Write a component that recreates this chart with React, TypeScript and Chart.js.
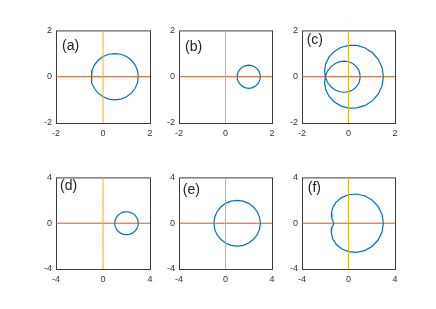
import { useEffect, useRef } from "react";
import { Chart, registerables } from "chart.js";
Chart.register(...registerables);

// ---- data ----
const panelLabels = ["(a)", "(b)", "(c)", "(d)", "(e)", "(f)"];
const axisLimits = [2, 2, 2, 4, 4, 4];
const tickSteps = [2, 2, 2, 4, 4, 4];
// label anchor (left, middle) in data coordinates
const labelX = [-1.74, -1.74, -1.8, -3.65, -3.68, -3.5];
const labelY = [1.3, 1.28, 1.57, 3.22, 2.86, 3.03];

const aX = [1.5, 1.47, 1.37, 1.21, 1, 0.76, 0.5, 0.24, 0, -0.21, -0.37, -0.47, -0.5, -0.47, -0.37, -0.21, 0, 0.24, 0.5, 0.76, 1, 1.21, 1.37, 1.47, 1.5];
const aY = [0, 0.26, 0.5, 0.71, 0.87, 0.97, 1, 0.97, 0.87, 0.71, 0.5, 0.26, 0, -0.26, -0.5, -0.71, -0.87, -0.97, -1, -0.97, -0.87, -0.71, -0.5, -0.26, 0];

const bX = [1.5, 1.48, 1.43, 1.35, 1.25, 1.13, 1, 0.87, 0.75, 0.65, 0.57, 0.52, 0.5, 0.52, 0.57, 0.65, 0.75, 0.87, 1, 1.13, 1.25, 1.35, 1.43, 1.48, 1.5];
const bY = [0, 0.13, 0.25, 0.35, 0.43, 0.48, 0.5, 0.48, 0.43, 0.35, 0.25, 0.13, 0, -0.13, -0.25, -0.35, -0.43, -0.48, -0.5, -0.48, -0.43, -0.35, -0.25, -0.13, 0];

const cX = [1.5, 1.445, 1.284, 1.034, 0.717, 0.361, 0, -0.338, -0.625, -0.842, -0.978, -1.029, -1, -0.903, -0.754, -0.572, -0.375, -0.18, 0, 0.156, 0.284, 0.38, 0.448, 0.487, 0.5, 0.487, 0.448, 0.38, 0.284, 0.156, 0, -0.18, -0.375, -0.572, -0.754, -0.903, -1, -1.029, -0.978, -0.842, -0.625, -0.338, 0, 0.361, 0.717, 1.034, 1.284, 1.445, 1.5];
const cY = [0, 0.387, 0.742, 1.034, 1.241, 1.349, 1.354, 1.26, 1.083, 0.842, 0.565, 0.276, 0, -0.242, -0.435, -0.572, -0.65, -0.672, -0.646, -0.583, -0.491, -0.38, -0.259, -0.131, 0, 0.131, 0.259, 0.38, 0.491, 0.583, 0.646, 0.672, 0.65, 0.572, 0.435, 0.242, 0, -0.276, -0.565, -0.842, -1.083, -1.26, -1.354, -1.349, -1.241, -1.034, -0.742, -0.387, 0];

const dX = [3, 2.97, 2.87, 2.71, 2.5, 2.26, 2, 1.74, 1.5, 1.29, 1.13, 1.03, 1, 1.03, 1.13, 1.29, 1.5, 1.74, 2, 2.26, 2.5, 2.71, 2.87, 2.97, 3];
const dY = [0, 0.26, 0.5, 0.71, 0.87, 0.97, 1, 0.97, 0.87, 0.71, 0.5, 0.26, 0, -0.26, -0.5, -0.71, -0.87, -0.97, -1, -0.97, -0.87, -0.71, -0.5, -0.26, 0];

const eX = [3, 2.93, 2.73, 2.41, 2, 1.52, 1, 0.48, 0, -0.41, -0.73, -0.93, -1, -0.93, -0.73, -0.41, 0, 0.48, 1, 1.52, 2, 2.41, 2.73, 2.93, 3];
const eY = [0, 0.52, 1, 1.41, 1.73, 1.93, 2, 1.93, 1.73, 1.41, 1, 0.52, 0, -0.52, -1, -1.41, -1.73, -1.93, -2, -1.93, -1.73, -1.41, -1, -0.52, 0];

const fX = [-1.25, -1.428, -1.475, -1.358, -1.063, -0.599, 0, 0.683, 1.383, 2.027, 2.546, 2.883, 3, 2.883, 2.546, 2.027, 1.383, 0.683, 0, -0.599, -1.063, -1.358, -1.475, -1.428, -1.25];
const fY = [0, -0.383, -0.852, -1.358, -1.84, -2.236, -2.487, -2.548, -2.395, -2.027, -1.47, -0.773, 0, 0.773, 1.47, 2.027, 2.395, 2.548, 2.487, 2.236, 1.84, 1.358, 0.852, 0.383, 0];

const curvesX = [aX, bX, cX, dX, eX, fX];
const curvesY = [aY, bY, cY, dY, eY, fY];

// ---- layout ----
const boxLefts = [56, 179, 302];
const boxWidths = [94, 93, 93];
const boxTops = [29, 176];
const boxHeights = [94, 93];
const YW = 22;
const XH = 20;
const PT = 8;
const PR = 8;
const FONT = "'Liberation Sans', Arial, Helvetica, sans-serif";

function Panel({ idx }: { idx: number }) {
  const ref = useRef<HTMLCanvasElement | null>(null);
  const col = idx % 3;
  const row = Math.floor(idx / 3);
  const W = boxWidths[col];
  const H = boxHeights[row];
  const cw = YW + W + PR;
  const ch = PT + H + XH;

  useEffect(() => {
    if (!ref.current) return;
    const lim = axisLimits[idx];
    const curve = curvesX[idx].map((x, i) => ({ x, y: curvesY[idx][i] }));
    const boxPlugin = {
      id: "boxAndLabel",
      beforeDatasetsDraw(chart: any) {
        const { ctx, chartArea: a } = chart;
        ctx.save();
        ctx.strokeStyle = "#3c3c3c";
        ctx.lineWidth = 1;
        ctx.strokeRect(a.left + 0.5, a.top + 0.5, a.right - a.left, a.bottom - a.top);
        ctx.restore();
      },
      afterDatasetsDraw(chart: any) {
        const { ctx } = chart;
        const px = chart.scales.x.getPixelForValue(labelX[idx]);
        const py = chart.scales.y.getPixelForValue(labelY[idx]);
        ctx.save();
        ctx.font = `14px ${FONT}`;
        ctx.fillStyle = "#222";
        ctx.textAlign = "left";
        ctx.textBaseline = "middle";
        ctx.fillText(panelLabels[idx], px, py);
        ctx.restore();
      },
    };
    const tickFont = { size: 9, family: FONT };
    const chart = new Chart(ref.current, {
      type: "scatter",
      data: {
        datasets: [
          {
            data: [{ x: 0, y: -lim }, { x: 0, y: lim }],
            borderColor: "#EDB120",
            borderWidth: 1,
            showLine: true,
            pointRadius: 0,
          },
          {
            data: [{ x: -lim, y: 0 }, { x: lim, y: 0 }],
            borderColor: "#D95319",
            borderWidth: 1,
            showLine: true,
            pointRadius: 0,
          },
          {
            data: curve,
            borderColor: "#0072BD",
            borderWidth: 1.2,
            showLine: true,
            pointRadius: 0,
            tension: 0,
          },
        ],
      },
      options: {
        animation: false,
        responsive: false,
        events: [],
        layout: { padding: { top: PT, right: PR, left: 0, bottom: 0 } },
        plugins: { legend: { display: false }, tooltip: { enabled: false } },
        scales: {
          x: {
            type: "linear",
            min: -lim,
            max: lim,
            grid: { display: false, drawTicks: false },
            border: { display: false },
            ticks: { stepSize: tickSteps[idx], font: tickFont, color: "#333", padding: 5, maxRotation: 0, autoSkip: false },
            afterFit: (s: any) => {
              s.height = XH;
            },
          },
          y: {
            type: "linear",
            min: -lim,
            max: lim,
            grid: { display: false, drawTicks: false },
            border: { display: false },
            ticks: { stepSize: tickSteps[idx], font: tickFont, color: "#333", padding: 4, autoSkip: false },
            afterFit: (s: any) => {
              s.width = YW;
            },
          },
        },
      } as any,
      plugins: [boxPlugin],
    });
    return () => chart.destroy();
  }, [idx]);

  return (
    <canvas
      ref={ref}
      width={cw}
      height={ch}
      style={{
        position: "absolute",
        left: boxLefts[col] - YW,
        top: boxTops[row] - PT,
        width: cw,
        height: ch,
      }}
    />
  );
}

export default function App() {
  return (
    <div style={{ position: "fixed", left: 0, top: 0, width: 436, height: 309, background: "#fff" }}>
      {panelLabels.map((_, i) => (
        <Panel key={i} idx={i} />
      ))}
    </div>
  );
}
